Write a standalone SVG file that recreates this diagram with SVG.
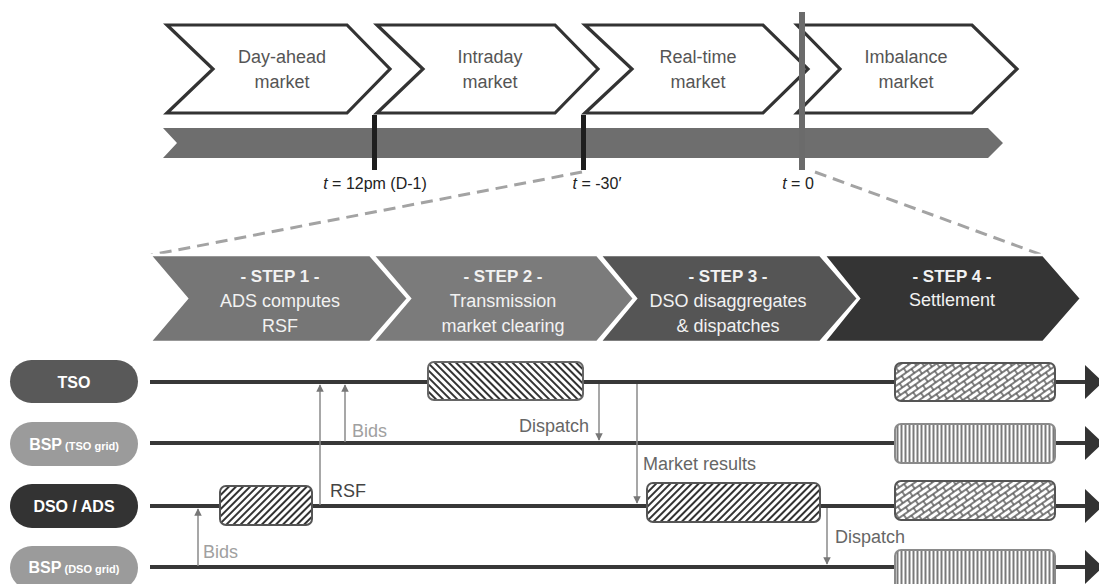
<svg xmlns="http://www.w3.org/2000/svg" width="1099" height="584" viewBox="0 0 1099 584">
<style>
text{font-family:"Liberation Sans",Arial,sans-serif}
.chev{fill:#fff;stroke:#333;stroke-width:3.2;stroke-linejoin:miter}
.ctxt{font-size:18px;fill:#555;text-anchor:middle}
.tl{font-size:16px;fill:#222;text-anchor:middle}
.step{stroke:#fff;stroke-width:2.5}
.stxt{font-size:18px;fill:#f2f2f2;text-anchor:middle}
.sb{font-weight:bold;font-size:17px}
.ptxt{font-size:16px;font-weight:bold;fill:#fff;text-anchor:middle}
.small{font-size:11px}
.lane{stroke:#383838;stroke-width:4;fill:none}
.msg{stroke:#8a8a8a;stroke-width:1.5;fill:none;marker-end:url(#ah)}
.lbl{font-size:18px}
.dash{stroke:#a3a3a3;stroke-width:3;stroke-dasharray:12 7;fill:none}
</style>
<defs>
<marker id="ah" viewBox="0 0 10 10" refX="9" refY="5" markerWidth="5" markerHeight="5" markerUnits="strokeWidth" orient="auto">
<path d="M0 0L10 5L0 10z" fill="#777"/>
</marker>
<pattern id="hb" width="5" height="5" patternUnits="userSpaceOnUse" patternTransform="rotate(-45)">
<rect width="5" height="5" fill="#fff"/><line x1="1" y1="0" x2="1" y2="5" stroke="#333" stroke-width="2"/>
</pattern>
<pattern id="hf" width="5" height="5" patternUnits="userSpaceOnUse" patternTransform="rotate(45)">
<rect width="5" height="5" fill="#fff"/><line x1="1" y1="0" x2="1" y2="5" stroke="#333" stroke-width="2"/>
</pattern>
<pattern id="brick" width="12" height="10" patternUnits="userSpaceOnUse" patternTransform="rotate(-35)">
<rect width="12" height="10" fill="#fff"/><path d="M0 0H12M0 5H12M0 10H12M1 0V5M7 5V10" stroke="#555" stroke-width="1.4"/>
</pattern>
<pattern id="vert" width="4" height="4" patternUnits="userSpaceOnUse">
<rect width="4" height="4" fill="#fff"/><line x1="1.5" y1="0" x2="1.5" y2="4" stroke="#7a7a7a" stroke-width="2"/>
</pattern>
</defs>

<!-- top market chevrons -->
<g id="dayahead"><polygon class="chev" points="167,25 347,25 390,69 347,113 167,113 213,69"/><text class="ctxt" x="282" y="63">Day-ahead</text><text class="ctxt" x="282" y="88">market</text></g>
<g id="intraday"><polygon class="chev" points="377,25 555,25 598,69 555,113 377,113 423,69"/><text class="ctxt" x="490" y="63">Intraday</text><text class="ctxt" x="490" y="88">market</text></g>
<g id="realtime"><polygon class="chev" points="585,25 763,25 808,69 763,113 585,113 632,69"/><text class="ctxt" x="698" y="63">Real-time</text><text class="ctxt" x="698" y="88">market</text></g>
<g id="imbalance"><polygon class="chev" points="797,25 972,25 1017,69 972,113 797,113 840,69"/><text class="ctxt" x="906" y="63">Imbalance</text><text class="ctxt" x="906" y="88">market</text></g>

<!-- timeline -->
<g id="timeline">
<polygon points="163,128 988,128 1003,143 988,158 163,158 177,143" fill="#6e6e6e"/>
<rect x="372" y="115" width="5" height="55" fill="#1e1e1e"/>
<rect x="581" y="115" width="5" height="55" fill="#1e1e1e"/>
<rect x="799" y="12" width="6" height="158" fill="#6b6b6b"/>
<text class="tl" x="375" y="189"><tspan font-style="italic">t</tspan> = 12pm (D-1)</text>
<text class="tl" x="597" y="189"><tspan font-style="italic">t</tspan> = -30′</text>
<text class="tl" x="798" y="189"><tspan font-style="italic">t</tspan> = 0</text>
</g>

<g id="zoom-lines">
<line class="dash" x1="582" y1="172" x2="151" y2="255"/>
<line class="dash" x1="815" y1="172" x2="1042" y2="255"/>
</g>

<!-- steps -->
<g id="step1"><polygon class="step" fill="#767676" points="150,255 370,255 408,298.5 370,342 150,342 187,298.5"/>
<text class="stxt" x="280" y="282"><tspan class="sb">- STEP 1 -</tspan></text><text class="stxt" x="280" y="307">ADS computes</text><text class="stxt" x="280" y="332">RSF</text></g>
<g id="step2"><polygon class="step" fill="#7b7b7b" points="373,255 597,255 634,298.5 597,342 373,342 410,298.5"/>
<text class="stxt" x="503" y="282"><tspan class="sb">- STEP 2 -</tspan></text><text class="stxt" x="503" y="307">Transmission</text><text class="stxt" x="503" y="332">market clearing</text></g>
<g id="step3"><polygon class="step" fill="#555" points="600,255 820,255 858,298.5 820,342 600,342 636,298.5"/>
<text class="stxt" x="728" y="282"><tspan class="sb">- STEP 3 -</tspan></text><text class="stxt" x="728" y="307">DSO disaggregates</text><text class="stxt" x="728" y="332">&amp; dispatches</text></g>
<g id="step4"><polygon class="step" fill="#343434" points="824,255 1043,255 1081,298.5 1043,342 824,342 859,298.5"/>
<text class="stxt" x="952" y="282"><tspan class="sb">- STEP 4 -</tspan></text><text class="stxt" x="952" y="306">Settlement</text></g>

<!-- lanes -->
<g id="lanes">
<line class="lane" x1="150" y1="382" x2="1086" y2="382"/><polygon points="1085,365 1103,382 1085,399" fill="#333"/>
<line class="lane" x1="150" y1="443" x2="1086" y2="443"/><polygon points="1085,426 1103,443 1085,460" fill="#333"/>
<line class="lane" x1="150" y1="506" x2="1086" y2="506"/><polygon points="1085,489 1103,506 1085,523" fill="#333"/>
<line class="lane" x1="150" y1="567" x2="1086" y2="567"/><polygon points="1085,550 1103,567 1085,584" fill="#333"/>
</g>

<g id="tso"><rect x="10" y="360" width="128" height="43" rx="21.5" fill="#595959"/><text class="ptxt" x="74" y="388">TSO</text></g>
<g id="bsp-tso"><rect x="10" y="422" width="128" height="44" rx="22" fill="#9b9b9b"/><text class="ptxt" x="74" y="450">BSP<tspan class="small"> (TSO grid)</tspan></text></g>
<g id="dso-ads"><rect x="10" y="484" width="128" height="44" rx="22" fill="#333"/><text class="ptxt" x="74" y="512" font-size="17">DSO / ADS</text></g>
<g id="bsp-dso"><rect x="10" y="546" width="128" height="44" rx="22" fill="#9b9b9b"/><text class="ptxt" x="74" y="573">BSP<tspan class="small"> (DSO grid)</tspan></text></g>

<!-- activity boxes -->
<g id="act-ads"><rect x="220" y="486" width="92" height="39" rx="6" fill="url(#hf)" stroke="#555" stroke-width="2"/></g>
<g id="act-tso-clear"><rect x="428" y="362" width="155" height="38" rx="6" fill="url(#hb)" stroke="#666" stroke-width="2"/></g>
<g id="act-dso-disp"><rect x="647" y="483" width="173" height="39" rx="6" fill="url(#hf)" stroke="#555" stroke-width="2"/></g>
<g id="settle-tso"><rect x="895" y="363" width="160" height="38" rx="6" fill="url(#brick)" stroke="#555" stroke-width="2"/></g>
<g id="settle-bsp-tso"><rect x="895" y="424" width="160" height="39" rx="6" fill="url(#vert)" stroke="#8a8a8a" stroke-width="2"/></g>
<g id="settle-dso"><rect x="895" y="481" width="160" height="39" rx="6" fill="url(#brick)" stroke="#555" stroke-width="2"/></g>
<g id="settle-bsp-dso"><rect x="895" y="550" width="160" height="40" rx="6" fill="url(#vert)" stroke="#8a8a8a" stroke-width="2"/></g>

<!-- connectors -->
<g id="connectors">
<line class="msg" x1="198" y1="566" x2="198" y2="509"/>
<line class="msg" x1="320" y1="505" x2="320" y2="385"/>
<line class="msg" x1="345" y1="442" x2="345" y2="385"/>
<line class="msg" x1="599" y1="384" x2="599" y2="440"/>
<line class="msg" x1="637" y1="384" x2="637" y2="503"/>
<line class="msg" x1="827" y1="508" x2="827" y2="564"/>
<text class="lbl" x="203" y="558" fill="#a0a0a0">Bids</text>
<text class="lbl" x="330" y="497" fill="#444">RSF</text>
<text class="lbl" x="352" y="437" fill="#a0a0a0">Bids</text>
<text class="lbl" x="589" y="432" fill="#666" text-anchor="end">Dispatch</text>
<text class="lbl" x="643" y="470" fill="#666">Market results</text>
<text class="lbl" x="835" y="543" fill="#666">Dispatch</text>
</g>
</svg>
